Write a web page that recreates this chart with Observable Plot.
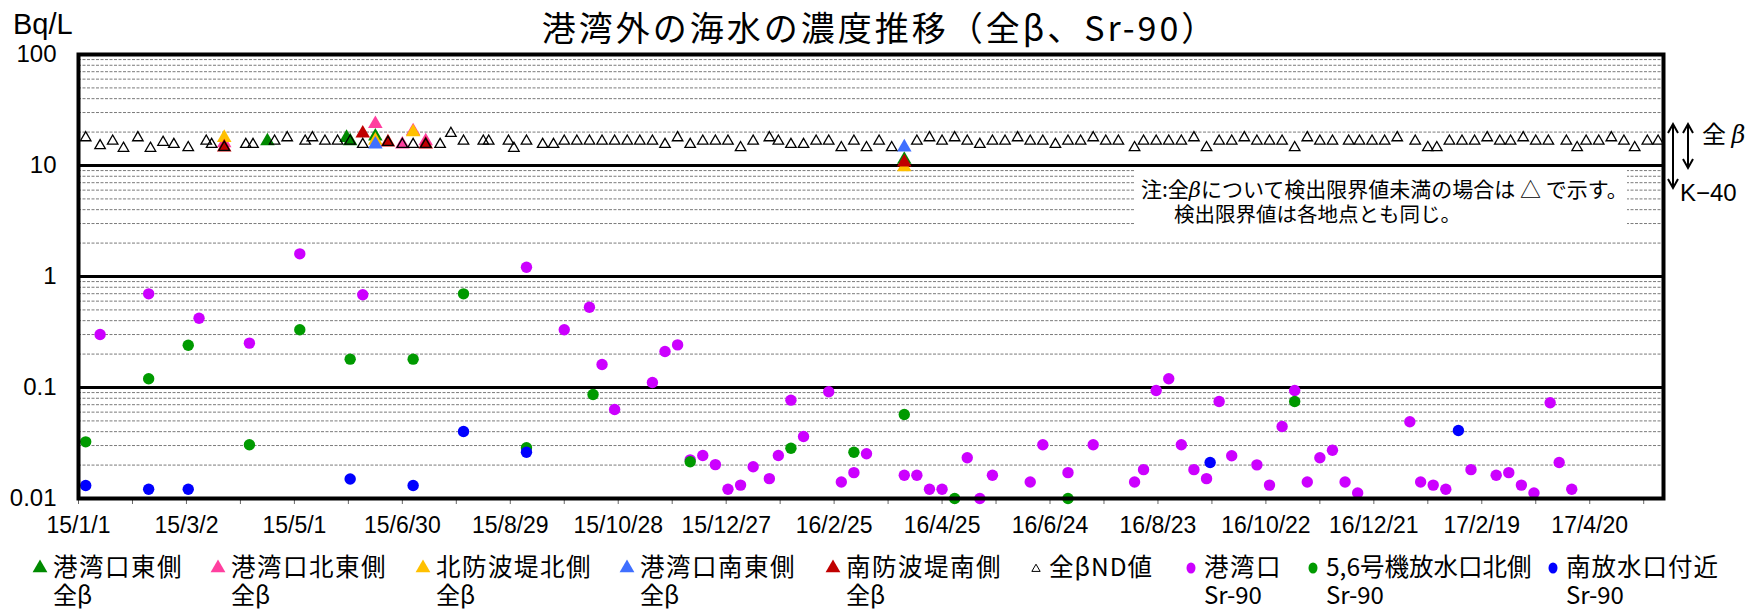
<!DOCTYPE html>
<html><head><meta charset="utf-8">
<script src="https://cdn.jsdelivr.net/npm/d3@7"></script>
<script src="https://cdn.jsdelivr.net/npm/@observablehq/plot@0.6"></script>
<style>html,body{margin:0;padding:0;background:#fff}svg{display:block}</style>
</head><body><div id="chart"></div>
<script>
// ---------- data ----------
const title = "港湾外の海水の濃度推移（全β、Sr-90）";
const yTickValues = [0.01, 0.1, 1, 10, 100];
const yTickLabels = ["0.01", "0.1", "1", "10", "100"];

// 全β ND (detection limit) values
const ndDates = ["2015-01-05","2015-01-13","2015-01-20","2015-01-26","2015-02-03","2015-02-10","2015-02-17","2015-02-23","2015-03-03","2015-03-13","2015-03-16","2015-03-23","2015-04-04","2015-04-08","2015-04-20","2015-04-27","2015-05-07","2015-05-11","2015-05-18","2015-05-25","2015-06-01","2015-06-08","2015-06-22","2015-06-30","2015-07-06","2015-07-13","2015-07-21","2015-07-27","2015-08-03","2015-08-14","2015-08-17","2015-08-28","2015-08-31","2015-09-07","2015-09-16","2015-09-22","2015-09-28","2015-10-05","2015-10-12","2015-10-19","2015-10-26","2015-11-02","2015-11-09","2015-11-16","2015-11-23","2015-11-30","2015-12-07","2015-12-14","2015-12-21","2015-12-28","2016-01-04","2016-01-11","2016-01-20","2016-01-25","2016-02-01","2016-02-08","2016-02-15","2016-02-22","2016-02-29","2016-03-07","2016-03-14","2016-03-21","2016-03-28","2016-04-11","2016-04-18","2016-04-25","2016-05-02","2016-05-09","2016-05-16","2016-05-23","2016-05-30","2016-06-06","2016-06-13","2016-06-20","2016-06-27","2016-07-04","2016-07-11","2016-07-18","2016-07-25","2016-08-01","2016-08-10","2016-08-15","2016-08-22","2016-08-29","2016-09-05","2016-09-12","2016-09-19","2016-09-26","2016-10-03","2016-10-10","2016-10-17","2016-10-24","2016-10-31","2016-11-07","2016-11-14","2016-11-21","2016-11-28","2016-12-07","2016-12-13","2016-12-20","2016-12-27","2017-01-03","2017-01-13","2017-01-20","2017-01-25","2017-02-01","2017-02-08","2017-02-15","2017-02-22","2017-03-01","2017-03-07","2017-03-14","2017-03-21","2017-03-28","2017-04-07","2017-04-13","2017-04-18","2017-04-25","2017-05-02","2017-05-09","2017-05-15","2017-05-22","2017-05-28"];
const ndValues = [17.8,15.1,16.6,14.3,17.8,14.3,16.2,15.5,14.5,16.6,15.5,14.6,15.5,15.5,16.6,17.8,16.6,17.8,16.6,16.6,16.6,15.5,16.2,15.5,15.5,15.5,15.5,19.5,16.6,16.6,16.6,16.6,14.3,16.6,15.5,15.5,16.6,16.6,16.6,16.6,16.6,16.6,16.6,16.6,15.5,17.8,15.5,16.6,16.6,16.6,14.5,16.6,17.8,16.6,15.5,15.5,16.6,16.6,14.5,16.6,14.5,16.6,14.5,16.6,17.8,16.6,17.8,16.6,15.5,16.6,16.6,17.8,16.6,16.6,15.5,16.6,16.6,17.8,16.6,16.6,14.5,16.6,16.6,16.6,16.6,17.8,14.5,16.6,16.6,17.8,16.6,16.6,16.6,14.5,17.8,16.6,16.6,16.6,16.6,16.6,16.6,17.8,16.6,14.5,14.5,16.6,16.6,16.6,17.8,16.6,16.6,17.8,16.6,16.6,16.6,14.5,16.6,16.6,17.8,16.6,14.5,16.6,16.6];

// 全β detected values by location
const eastBetaDates = ["2015-04-16","2015-05-30","2015-06-01","2015-06-15","2016-04-04"];
const eastBetaValues = [16.6,17.8,16.6,18.3,11.3];
const northEastBetaDates = ["2015-03-23","2015-06-15","2015-06-30","2015-07-06","2015-07-13"];
const northEastBetaValues = [15.9,23.7,15.5,20.4,16.6];
const northBreakwaterBetaDates = ["2015-03-23","2015-06-15","2015-07-06","2016-04-04"];
const northBreakwaterBetaValues = [17.8,16.8,20.0,9.7];
const southEastBetaDates = ["2015-06-15","2016-04-04"];
const southEastBetaValues = [15.5,14.6];
const southBreakwaterBetaDates = ["2015-03-23","2015-06-08","2015-06-22","2015-07-13","2016-04-04"];
const southBreakwaterBetaValues = [14.6,19.5,16.2,15.5,10.7];

// Sr-90
const harborSrDates = ["2015-01-13","2015-02-09","2015-03-09","2015-04-06","2015-05-04","2015-06-08","2015-09-07","2015-09-28","2015-10-12","2015-10-19","2015-10-26","2015-11-16","2015-11-23","2015-11-30","2015-12-07","2015-12-14","2015-12-21","2015-12-28","2016-01-04","2016-01-11","2016-01-20","2016-01-25","2016-02-01","2016-02-08","2016-02-22","2016-02-29","2016-03-07","2016-03-14","2016-04-04","2016-04-11","2016-04-18","2016-04-25","2016-05-09","2016-05-16","2016-05-23","2016-06-13","2016-06-20","2016-07-04","2016-07-18","2016-08-10","2016-08-15","2016-08-22","2016-08-29","2016-09-05","2016-09-12","2016-09-19","2016-09-26","2016-10-03","2016-10-17","2016-10-24","2016-10-31","2016-11-07","2016-11-14","2016-11-21","2016-11-28","2016-12-05","2016-12-12","2017-01-10","2017-01-16","2017-01-23","2017-01-30","2017-02-13","2017-02-27","2017-03-06","2017-03-13","2017-03-20","2017-03-29","2017-04-03","2017-04-10"];
const harborSrValues = [0.300,0.698,0.421,0.251,1.60,0.684,1.21,0.331,0.529,0.161,0.0634,0.111,0.211,0.242,0.0223,0.0244,0.0202,0.0121,0.0132,0.0193,0.0151,0.0244,0.0769,0.0362,0.0915,0.0141,0.0171,0.0253,0.0162,0.0162,0.0121,0.0121,0.0233,0.0100,0.0162,0.0141,0.0305,0.0171,0.0305,0.0141,0.0182,0.094,0.120,0.0305,0.0182,0.0151,0.0748,0.0243,0.0201,0.0132,0.0445,0.094,0.0141,0.0233,0.0272,0.0141,0.0112,0.0491,0.0141,0.0132,0.0121,0.0182,0.0162,0.0171,0.0132,0.0112,0.0728,0.0211,0.0121];
const unit56SrDates = ["2015-01-05","2015-02-09","2015-03-03","2015-04-06","2015-05-04","2015-06-01","2015-07-06","2015-08-03","2015-09-07","2015-10-14","2015-12-07","2016-02-01","2016-03-07","2016-04-04","2016-05-02","2016-07-04","2016-11-07"];
const unit56SrValues = [0.0324,0.120,0.240,0.0305,0.331,0.180,0.180,0.698,0.0287,0.0865,0.0214,0.0284,0.0261,0.0571,0.0100,0.0100,0.0748];
const southOutletSrDates = ["2015-01-05","2015-02-09","2015-03-03","2015-06-01","2015-07-06","2015-08-03","2015-09-07","2016-09-21","2017-02-06"];
const southOutletSrValues = [0.0131,0.0121,0.0121,0.0150,0.0131,0.0401,0.0261,0.0211,0.0410];

// ---------- build ----------
const parse = d3.utcParse("%Y-%m-%d");
const rows = (ds, vs) => ds.map((d, i) => ({date: parse(d), value: vs[i]}));
const start = parse("2015-01-01");
const xTicksAll = d3.range(0, 30).map(k => d3.utcDay.offset(start, 30 * k));
const xMajor = xTicksAll.filter((d, i) => i % 2 === 0);
const xMinor = xTicksAll.filter((d, i) => i % 2 === 1);
const fmtDate = d => `${String(d.getUTCFullYear()).slice(2)}/${d.getUTCMonth() + 1}/${d.getUTCDate()}`;
const minorGrid = [];
for (const dec of [0.01, 0.1, 1, 10]) for (let m = 2; m <= 9; m++) minorGrid.push(+(m * dec).toPrecision(3));
const majorGrid = [0.1, 1, 10];

const C = {green: "#008a00", pink: "#ff3f9f", yellow: "#ffc000", blue: "#3f6fff", red: "#c00000",
           srMag: "#cc00ff", srGreen: "#009a00", srBlue: "#0000ff"};
const latin = "'Liberation Sans', Arial, 'Noto Sans CJK JP', sans-serif";
const cjk = "'Noto Sans CJK JP', 'Liberation Sans', sans-serif";
const triR = 5.4, ndR = 3.9, dotR = 5.7;

const chart = Plot.plot({
  width: 1762, height: 611,
  marginLeft: 78, marginRight: 99, marginTop: 54, marginBottom: 113,
  style: {fontFamily: latin, background: "white", color: "black"},
  x: {type: "utc", domain: [start, parse("2017-05-31")]},
  y: {type: "log", domain: [0.01, 100]},
  marks: [
    Plot.ruleY(minorGrid, {stroke: "#7a7a7a", strokeWidth: 1, strokeDasharray: "3,1.5"}),
    Plot.ruleY(majorGrid, {stroke: "black", strokeWidth: 3}),
    Plot.axisY({ticks: yTickValues, tickFormat: (d) => yTickLabels[yTickValues.indexOf(d)], tickSize: 0, tickPadding: 22, fontSize: 24, label: null}),
    Plot.axisX({ticks: xMajor, tickFormat: fmtDate, tickSize: 6, tickPadding: 12, fontSize: 23, label: null, stroke: "#666", fill: "black"}),
    Plot.axisX({ticks: xMinor, tickSize: 6, label: null, stroke: "#666", fill: "none"}),
    // Sr-90
    Plot.dot(rows(harborSrDates, harborSrValues), {x: "date", y: "value", r: dotR, fill: C.srMag}),
    Plot.dot(rows(unit56SrDates, unit56SrValues), {x: "date", y: "value", r: dotR, fill: C.srGreen}),
    Plot.dot(rows(southOutletSrDates, southOutletSrValues), {x: "date", y: "value", r: dotR, fill: C.srBlue}),
    // 全β detected
    Plot.dot(rows(northEastBetaDates, northEastBetaValues), {x: "date", y: "value", symbol: "triangle", r: triR, fill: C.pink}),
    Plot.dot(rows(eastBetaDates, eastBetaValues), {x: "date", y: "value", symbol: "triangle", r: triR, fill: C.green}),
    Plot.dot(rows(northBreakwaterBetaDates, northBreakwaterBetaValues), {x: "date", y: "value", symbol: "triangle", r: triR, fill: C.yellow}),
    Plot.dot(rows(southBreakwaterBetaDates, southBreakwaterBetaValues), {x: "date", y: "value", symbol: "triangle", r: triR, fill: C.red}),
    Plot.dot(rows(southEastBetaDates, southEastBetaValues), {x: "date", y: "value", symbol: "triangle", r: triR, fill: C.blue}),
    // 全β ND
    Plot.dot(rows(ndDates, ndValues), {x: "date", y: "value", symbol: "triangle", r: ndR, fill: "none", stroke: "black", strokeWidth: 1.3}),
    Plot.frame({stroke: "black", strokeWidth: 4})
  ]
});
document.getElementById("chart").appendChild(chart);

// ---------- annotations ----------
const svg = d3.select(chart);
const txt = (x, y, size, family) => svg.append("text").attr("x", x).attr("y", y)
  .attr("text-anchor", "start").attr("font-family", family).attr("font-size", size).attr("fill", "black");

txt(880, 41, 34, cjk).attr("text-anchor", "middle").attr("letter-spacing", 3).text(title);
txt(13, 34, 29, latin).text("Bq/L");

// note box
svg.append("rect").attr("x", 1135).attr("y", 169).attr("width", 492).attr("height", 65).attr("fill", "white");
const note1 = txt(1141, 197, 21, cjk);
note1.append("tspan").text("注:全");
note1.append("tspan").attr("font-style", "italic").attr("font-family", "'DejaVu Serif', serif").text("β");
note1.append("tspan").text("について検出限界値未満の場合は △ で示す。");
txt(1174, 222, 20.5, cjk).text("検出限界値は各地点とも同じ。");

// right side arrows
const arrowG = svg.append("g").attr("stroke", "black").attr("stroke-width", 2).attr("fill", "none");
function dblArrow(x, y1, y2) {
  arrowG.append("line").attr("x1", x).attr("x2", x).attr("y1", y1).attr("y2", y2);
  arrowG.append("path").attr("d", `M${x - 5},${y1 + 9}L${x},${y1}L${x + 5},${y1 + 9}`);
  arrowG.append("path").attr("d", `M${x - 5},${y2 - 9}L${x},${y2}L${x + 5},${y2 - 9}`);
}
dblArrow(1673, 124, 188);
dblArrow(1688, 124, 168);
const beta = txt(1702, 143, 24, cjk);
beta.append("tspan").text("全 ");
beta.append("tspan").attr("font-style", "italic").attr("font-family", "'DejaVu Serif', serif").text("β");
txt(1680, 201, 24, latin).text("K−40");

// legend
const legendItems = [
  {sym: "tri", color: C.green, x: 40, l1: "港湾口東側", l2: "全β", ls: 1.5},
  {sym: "tri", color: C.pink, x: 218, l1: "港湾口北東側", l2: "全β", ls: 1.5},
  {sym: "tri", color: C.yellow, x: 423, l1: "北防波堤北側", l2: "全β", ls: 1.5},
  {sym: "tri", color: C.blue, x: 627, l1: "港湾口南東側", l2: "全β", ls: 1.5},
  {sym: "tri", color: C.red, x: 833, l1: "南防波堤南側", l2: "全β", ls: 1.5},
  {sym: "nd", color: "black", x: 1036, l1: "全βND値", l2: "", ls: 1},
  {sym: "dot", color: C.srMag, x: 1191, l1: "港湾口", l2: "Sr-90", ls: 1.5},
  {sym: "dot", color: C.srGreen, x: 1313, l1: "5,6号機放水口北側", l2: "Sr-90", ls: 0},
  {sym: "dot", color: C.srBlue, x: 1553, l1: "南放水口付近", l2: "Sr-90", ls: 1}
];
const lg = svg.append("g");
for (const it of legendItems) {
  const y = 567;
  if (it.sym === "tri") {
    lg.append("path").attr("transform", `translate(${it.x},${y + 1})`)
      .attr("d", d3.symbol(d3.symbolTriangle, 95)()).attr("fill", it.color);
  } else if (it.sym === "nd") {
    lg.append("path").attr("transform", `translate(${it.x},${y + 2})`)
      .attr("d", d3.symbol(d3.symbolTriangle, 30)()).attr("fill", "none").attr("stroke", "black").attr("stroke-width", 1);
  } else {
    lg.append("ellipse").attr("cx", it.x).attr("cy", y + 1).attr("rx", 4.5).attr("ry", 5.5).attr("fill", it.color);
  }
  lg.append("text").attr("x", it.x + 13).attr("y", y + 9).attr("text-anchor", "start").attr("font-family", cjk)
    .attr("font-size", 24.5).attr("letter-spacing", it.ls).attr("fill", "black").text(it.l1);
  if (it.l2) lg.append("text").attr("x", it.x + 13).attr("y", y + 37).attr("text-anchor", "start").attr("font-family", cjk)
    .attr("font-size", 24).attr("fill", "black").text(it.l2);
}
</script></body></html>
